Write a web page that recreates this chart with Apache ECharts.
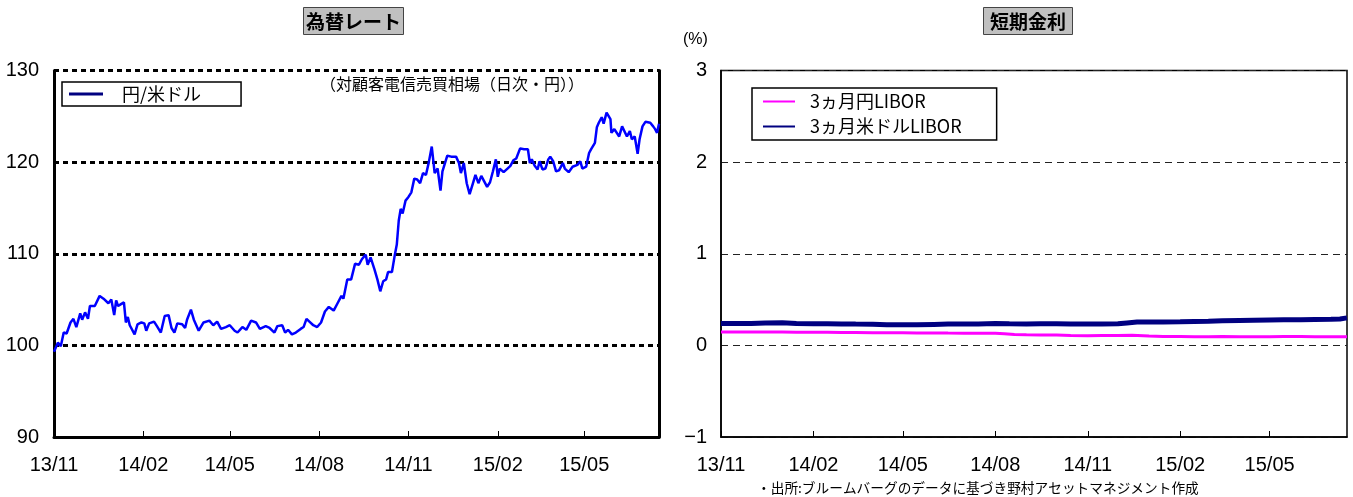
<!DOCTYPE html>
<html><head><meta charset="utf-8">
<script src="https://cdn.jsdelivr.net/npm/echarts@6/dist/echarts.min.js"></script>
<style>html,body{margin:0;padding:0;background:#fff}#c{width:1353px;height:497px}</style>
</head><body><div id="c"></div>
<script>
const fxDates = ['2013-11-01','2013-11-05','2013-11-08','2013-11-11','2013-11-14','2013-11-18','2013-11-21','2013-11-24','2013-11-28','2013-11-30',
'2013-12-03','2013-12-06','2013-12-08','2013-12-13','2013-12-18','2013-12-22','2013-12-27','2013-12-30',
'2014-01-02','2014-01-04','2014-01-06','2014-01-09','2014-01-12','2014-01-14','2014-01-16','2014-01-18','2014-01-23','2014-01-26','2014-01-30',
'2014-02-02','2014-02-04','2014-02-07','2014-02-12','2014-02-15','2014-02-19','2014-02-23','2014-02-27',
'2014-03-02','2014-03-05','2014-03-08','2014-03-13','2014-03-16','2014-03-18','2014-03-22','2014-03-25','2014-03-30',
'2014-04-04','2014-04-10','2014-04-14','2014-04-18','2014-04-22','2014-04-27',
'2014-05-01','2014-05-06','2014-05-09','2014-05-14','2014-05-18','2014-05-23','2014-05-28',
'2014-06-01','2014-06-07','2014-06-11','2014-06-16','2014-06-19','2014-06-24','2014-06-27','2014-06-30',
'2014-07-04','2014-07-08','2014-07-13','2014-07-16','2014-07-19','2014-07-22','2014-07-26','2014-07-30',
'2014-08-03','2014-08-07','2014-08-11','2014-08-16','2014-08-20','2014-08-24','2014-08-26','2014-08-30',
'2014-09-03','2014-09-07','2014-09-11','2014-09-14','2014-09-18','2014-09-20','2014-09-23','2014-09-27','2014-09-30',
'2014-10-03','2014-10-06','2014-10-09','2014-10-11','2014-10-15','2014-10-18','2014-10-20','2014-10-22','2014-10-24','2014-10-26','2014-10-29',
'2014-11-01','2014-11-04','2014-11-07','2014-11-10','2014-11-13','2014-11-16','2014-11-19','2014-11-22','2014-11-25','2014-11-28',
'2014-12-01','2014-12-04','2014-12-06','2014-12-11','2014-12-15','2014-12-20','2014-12-23','2014-12-25','2014-12-28','2014-12-31',
'2015-01-03','2015-01-07','2015-01-09','2015-01-12','2015-01-15','2015-01-18','2015-01-21','2015-01-24','2015-01-27','2015-01-30',
'2015-02-01','2015-02-03','2015-02-07','2015-02-11','2015-02-14','2015-02-17','2015-02-20','2015-02-24','2015-02-28',
'2015-03-04','2015-03-06','2015-03-08','2015-03-11','2015-03-14','2015-03-16','2015-03-19','2015-03-22','2015-03-25','2015-03-27','2015-03-30',
'2015-04-02','2015-04-05','2015-04-09','2015-04-11','2015-04-15','2015-04-19','2015-04-21','2015-04-24','2015-04-27','2015-04-29',
'2015-05-03','2015-05-06','2015-05-08','2015-05-12','2015-05-14','2015-05-16','2015-05-19','2015-05-21','2015-05-24','2015-05-25','2015-05-28','2015-05-29',
'2015-06-01','2015-06-03','2015-06-06','2015-06-09','2015-06-11','2015-06-14','2015-06-17','2015-06-19','2015-06-22','2015-06-25','2015-06-27','2015-06-30',
'2015-07-03','2015-07-05','2015-07-08','2015-07-11','2015-07-13','2015-07-15','2015-07-17'];
const fxValues = [99.3,100.3,99.9,101.4,101.3,102.5,102.9,102.0,103.5,102.8,
103.6,102.9,104.3,104.3,105.4,105.1,104.6,105.0,
103.3,104.9,104.3,104.5,104.7,102.5,103.1,102.2,101.2,102.3,102.5,
102.4,101.6,102.4,102.6,102.1,101.4,103.2,103.3,
101.9,101.4,102.4,102.3,101.9,102.8,103.9,102.8,101.6,
102.5,102.7,102.2,102.6,101.8,102.0,
102.2,101.6,101.4,102.0,101.7,102.7,102.5,
101.8,102.1,101.9,101.4,102.1,102.2,101.4,101.7,
101.2,101.4,101.8,102.0,102.9,102.6,102.2,102.0,
102.5,103.7,104.2,103.8,104.6,105.4,105.1,107.2,
107.2,108.9,108.8,109.4,109.9,108.8,109.6,108.3,107.2,
105.9,107.0,107.2,108.0,108.0,109.9,111.0,113.6,114.9,114.4,115.8,
116.2,116.7,118.2,118.1,117.7,118.8,118.6,120.0,121.7,118.8,
119.3,116.9,119.0,120.7,120.6,120.6,119.9,118.8,119.9,117.7,
116.5,117.9,118.6,117.7,118.5,117.9,117.3,117.8,119.0,120.3,
118.4,119.3,118.9,119.3,119.6,120.2,120.4,121.5,121.4,
121.4,119.9,120.3,119.6,119.2,120.1,119.2,119.3,120.3,120.6,120.1,
119.0,119.1,119.9,119.3,118.9,119.5,119.4,119.7,120.1,119.3,
119.5,121.0,121.4,122.1,123.8,124.3,124.9,124.2,125.4,125.6,124.7,123.2,
123.6,123.6,122.8,123.9,124.0,122.8,123.4,122.5,122.8,120.9,122.5,123.9,
124.4,124.5,124.3,123.9,123.6,123.2,124.2];

const jpyDates = ['2013-11-01','2013-11-15','2013-12-01','2013-12-15','2014-01-01','2014-01-15','2014-02-01','2014-02-15','2014-03-01','2014-03-15',
'2014-04-01','2014-04-15','2014-05-01','2014-05-15','2014-06-01','2014-06-15','2014-07-01','2014-07-15','2014-08-01','2014-08-10','2014-08-20',
'2014-09-01','2014-09-15','2014-10-01','2014-10-15','2014-11-01','2014-11-15','2014-12-01','2014-12-15','2015-01-01','2015-01-15',
'2015-02-01','2015-02-15','2015-03-01','2015-03-15','2015-04-01','2015-04-15','2015-05-01','2015-05-15','2015-06-01','2015-06-15','2015-07-01','2015-07-17'];
const jpyLibor = [0.145,0.146,0.147,0.147,0.146,0.144,0.143,0.142,0.141,0.140,
0.139,0.138,0.137,0.136,0.135,0.134,0.133,0.132,0.131,0.128,0.118,
0.116,0.114,0.112,0.108,0.105,0.108,0.109,0.110,0.103,0.098,
0.096,0.093,0.095,0.097,0.095,0.093,0.095,0.097,0.096,0.095,0.094,0.094];

const usdDates = ['2013-11-01','2013-11-15','2013-12-01','2013-12-15','2014-01-01','2014-01-15','2014-02-01','2014-02-15','2014-03-01','2014-03-15',
'2014-04-01','2014-04-15','2014-05-01','2014-05-15','2014-06-01','2014-06-15','2014-07-01','2014-07-15','2014-08-01','2014-08-15',
'2014-09-01','2014-09-15','2014-10-01','2014-10-15','2014-11-01','2014-11-15','2014-12-01','2014-12-10','2014-12-20','2015-01-01','2015-01-15',
'2015-02-01','2015-02-15','2015-03-01','2015-03-15','2015-04-01','2015-04-15','2015-05-01','2015-05-15','2015-06-01','2015-06-15','2015-07-01','2015-07-10','2015-07-17'];
const usdLibor = [0.240,0.238,0.240,0.245,0.246,0.238,0.236,0.235,0.234,0.232,
0.230,0.226,0.224,0.224,0.229,0.232,0.232,0.234,0.238,0.236,
0.234,0.235,0.236,0.232,0.232,0.234,0.236,0.245,0.255,0.256,0.254,
0.257,0.261,0.263,0.268,0.272,0.275,0.278,0.280,0.281,0.283,0.285,0.288,0.300];

const tickDates = ['2013-11-01','2014-02-01','2014-05-01','2014-08-01','2014-11-01','2015-02-01','2015-05-01'];
const xStart = '2013-11-01', xEnd = '2015-07-17';
const fxName = '円/米ドル', jpyName = '3ヵ月円LIBOR', usdName = '3ヵ月米ドルLIBOR';

function ts(s){const p=s.split('-').map(Number);return Date.UTC(p[0],p[1]-1,p[2]);}
function fmt(v){const d=new Date(v);return String(d.getUTCFullYear()).slice(2)+'/'+String(d.getUTCMonth()+1).padStart(2,'0');}
const tickVals = tickDates.map(ts);
const LAT = "'Liberation Sans', Arial, sans-serif";
const CJK = "'Noto Sans CJK JP', sans-serif";

function xAxisCfg(grid, w){
  return {type:'value', gridIndex:grid, min:ts(xStart), max:ts(xEnd),
    axisLine:{show:true,onZero:false,lineStyle:{color:'#000',width:w}},
    axisTick:{show:true,inside:true,length:6,customValues:tickVals,lineStyle:{color:'#000',width:1}},
    axisLabel:{customValues:tickVals,formatter:fmt,color:'#000',fontSize:20,fontFamily:LAT,margin:18,showMinLabel:true,hideOverlap:false},
    splitLine:{show:false}};
}

const chart = echarts.init(document.getElementById('c'));
chart.setOption({
  animation:false,
  backgroundColor:'#fff',
  title:[
    {text:'為替レート',left:303,top:7,backgroundColor:'#c0c0c0',borderColor:'#444',borderWidth:1,padding:[5,3,4,3],
     textStyle:{fontSize:19,fontWeight:'bold',fontFamily:CJK,color:'#000'}},
    {text:'短期金利',left:983,top:7,backgroundColor:'#c0c0c0',borderColor:'#444',borderWidth:1,padding:[5,7,4,7],
     textStyle:{fontSize:19,fontWeight:'bold',fontFamily:CJK,color:'#000'}},
    {text:'（対顧客電信売買相場（日次・円））',left:320,top:76,padding:0,textStyle:{fontSize:16,fontWeight:'normal',fontFamily:CJK,color:'#000'}},
    {text:'(%)',left:683,top:32,padding:0,textStyle:{fontSize:16,fontWeight:'normal',fontFamily:LAT,color:'#000'}},
    {text:'・出所:ブルームバーグのデータに基づき野村アセットマネジメント作成',left:757,top:481,padding:0,
     textStyle:{fontSize:13.7,fontWeight:'normal',fontFamily:CJK,color:'#000'}}
  ],
  legend:[
    {left:62,top:82,orient:'horizontal',data:[{name:fxName,itemStyle:{color:'#000080'}}],icon:'rect',itemWidth:34,itemHeight:3,
     borderColor:'#000',borderWidth:1.5,padding:[3,40,3,7],selectedMode:false,
     textStyle:{fontSize:18,fontFamily:CJK,color:'#000',padding:[0,0,0,14]}},
    {left:752,top:88,orient:'vertical',data:[{name:jpyName,itemStyle:{color:'#ff00ff'}},{name:usdName,itemStyle:{color:'#000080'}}],
     icon:'rect',itemWidth:32,itemHeight:2,itemGap:6,borderColor:'#000',borderWidth:1.5,padding:[4,35,4,11],selectedMode:false,
     textStyle:{fontSize:18,fontFamily:CJK,color:'#000',padding:[0,0,0,10],lineHeight:19}}
  ],
  grid:[
    {left:54,right:694,top:70.5,bottom:60,show:false},
    {left:721,right:6,top:70.5,bottom:60,show:true,borderColor:'#000',borderWidth:1.5,backgroundColor:'transparent'}
  ],
  xAxis:[xAxisCfg(0,3), xAxisCfg(1,1.5)],
  yAxis:[
    {type:'value',gridIndex:0,min:90,max:130,interval:10,
     axisLine:{show:true,lineStyle:{color:'#000',width:3}},axisTick:{show:false},
     axisLabel:{color:'#000',fontSize:20,fontFamily:LAT,margin:15},
     splitLine:{show:true,lineStyle:{color:'#000',width:3,type:[5,4]}}},
    {type:'value',gridIndex:0,position:'right',min:90,max:130,interval:10,
     axisLine:{show:true,lineStyle:{color:'#000',width:3}},axisTick:{show:false},axisLabel:{show:false},splitLine:{show:false}},
    {type:'value',gridIndex:1,min:-1,max:3,interval:1,
     axisLine:{show:true,lineStyle:{color:'#000',width:1.5}},axisTick:{show:false},
     axisLabel:{color:'#000',fontSize:20,fontFamily:LAT,margin:14,formatter:v=>v<0?'−'+Math.abs(v):String(v)},
     splitLine:{show:true,lineStyle:{color:'#222',width:1,type:[7,5]}}}
  ],
  series:[
    {name:fxName,type:'line',xAxisIndex:0,yAxisIndex:0,showSymbol:false,symbol:'none',
     data:fxDates.map((d,i)=>[ts(d),fxValues[i]]),lineStyle:{color:'#0000ff',width:2.5},itemStyle:{color:'#0000ff'}},
    {name:jpyName,type:'line',xAxisIndex:1,yAxisIndex:2,showSymbol:false,symbol:'none',
     data:jpyDates.map((d,i)=>[ts(d),jpyLibor[i]]),lineStyle:{color:'#ff00ff',width:3},itemStyle:{color:'#ff00ff'}},
    {name:usdName,type:'line',xAxisIndex:1,yAxisIndex:2,showSymbol:false,symbol:'none',
     data:usdDates.map((d,i)=>[ts(d),usdLibor[i]]),lineStyle:{color:'#000080',width:5},itemStyle:{color:'#000080'}}
  ]
});
</script></body></html>
